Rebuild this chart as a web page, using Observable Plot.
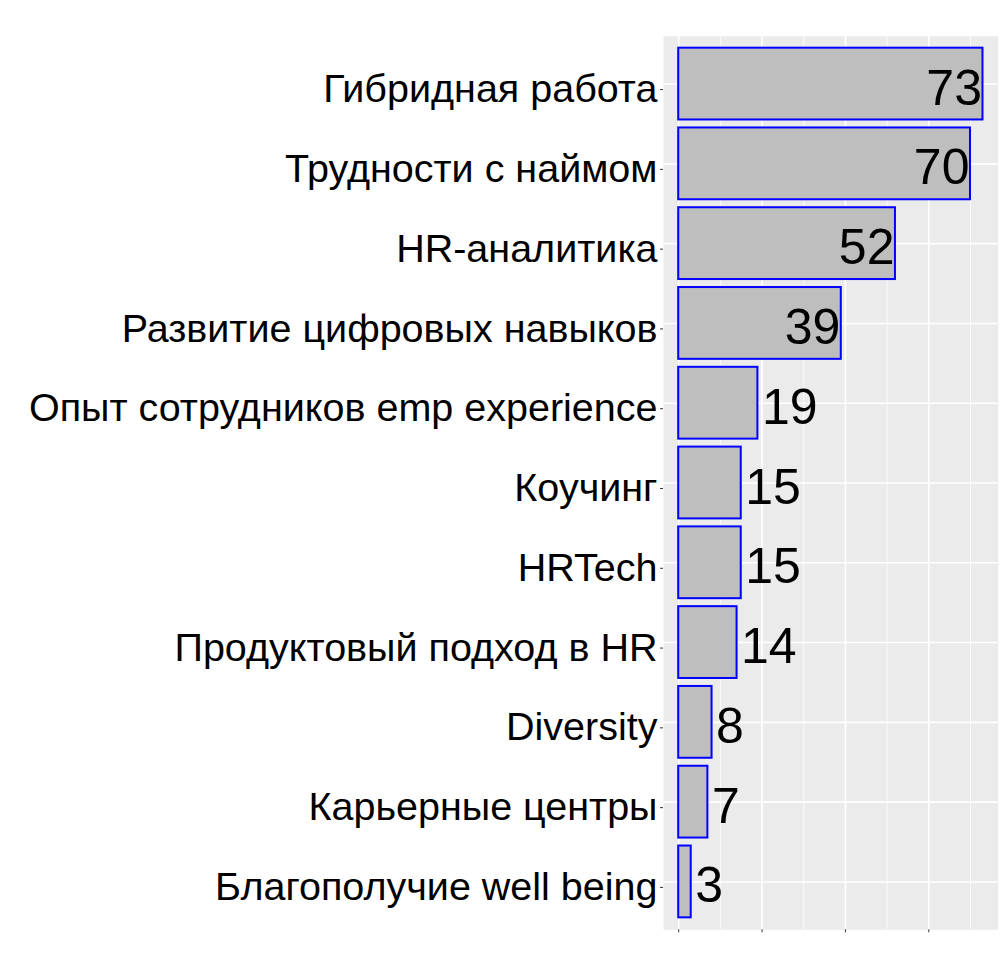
<!DOCTYPE html>
<html>
<head>
<meta charset="utf-8">
<script src="https://cdn.jsdelivr.net/npm/d3@7"></script>
<script src="https://cdn.jsdelivr.net/npm/@observablehq/plot@0.6"></script>
<style>
  html, body { margin: 0; padding: 0; background: #ffffff; }
</style>
</head>
<body>
<div id="chart"></div>
<script>
const categories = [
  "Гибридная работа",
  "Трудности с наймом",
  "HR-аналитика",
  "Развитие цифровых навыков",
  "Опыт сотрудников emp experience",
  "Коучинг",
  "HRTech",
  "Продуктовый подход в HR",
  "Diversity",
  "Карьерные центры",
  "Благополучие well being"
];
const counts = [73, 70, 52, 39, 19, 15, 15, 14, 8, 7, 3];
const majorTicks = [0, 20, 40, 60];
const minorTicks = [10, 30, 50, 70];

const data = categories.map((c, i) => ({cat: c, n: counts[i]}));
const inside = data.filter(d => d.n > 30);
const outside = data.filter(d => d.n <= 30);

const font = "'Liberation Sans', Arial, sans-serif";

const chart = Plot.plot({
  width: 1005,
  height: 964,
  marginLeft: 663,
  marginRight: 7.3,
  marginTop: 35.7,
  marginBottom: 34.7,
  style: {background: "#ffffff", fontFamily: font, color: "#000000"},
  x: {domain: [-3.65, 76.65], axis: null},
  y: {domain: categories, paddingInner: 0.1, paddingOuter: 0.15, round: false, axis: null},
  marks: [
    Plot.frame({fill: "#ebebeb", stroke: "none"}),
    Plot.ruleX(minorTicks, {stroke: "#ffffff", strokeWidth: 0.8}),
    Plot.ruleX(majorTicks, {stroke: "#ffffff", strokeWidth: 1.6}),
    Plot.ruleY(categories, {y: d => d, stroke: "#ffffff", strokeWidth: 1.6}),
    Plot.barX(data, {x1: 0, x2: "n", y: "cat", fill: "#bebebe", stroke: "#0000ff", strokeWidth: 2}),
    Plot.text(inside, {x: "n", y: "cat", text: d => String(d.n), textAnchor: "end", lineAnchor: "middle", fontSize: 50, dy: 4.5, dx: -1, fill: "#000000"}),
    Plot.text(outside, {x: "n", y: "cat", text: d => String(d.n), textAnchor: "start", lineAnchor: "middle", fontSize: 50, dy: 4.5, dx: 4, fill: "#000000"}),
    Plot.axisY({tickSize: 3, tickPadding: 3, fontSize: 39.5, stroke: "#333333", fill: "#000000", label: null, dy: 5.5}),
    Plot.axisX(majorTicks, {tickSize: 3, stroke: "#333333", tickFormat: () => "", label: null, anchor: "bottom"})
  ]
});
document.getElementById("chart").appendChild(chart);
</script>
</body>
</html>
